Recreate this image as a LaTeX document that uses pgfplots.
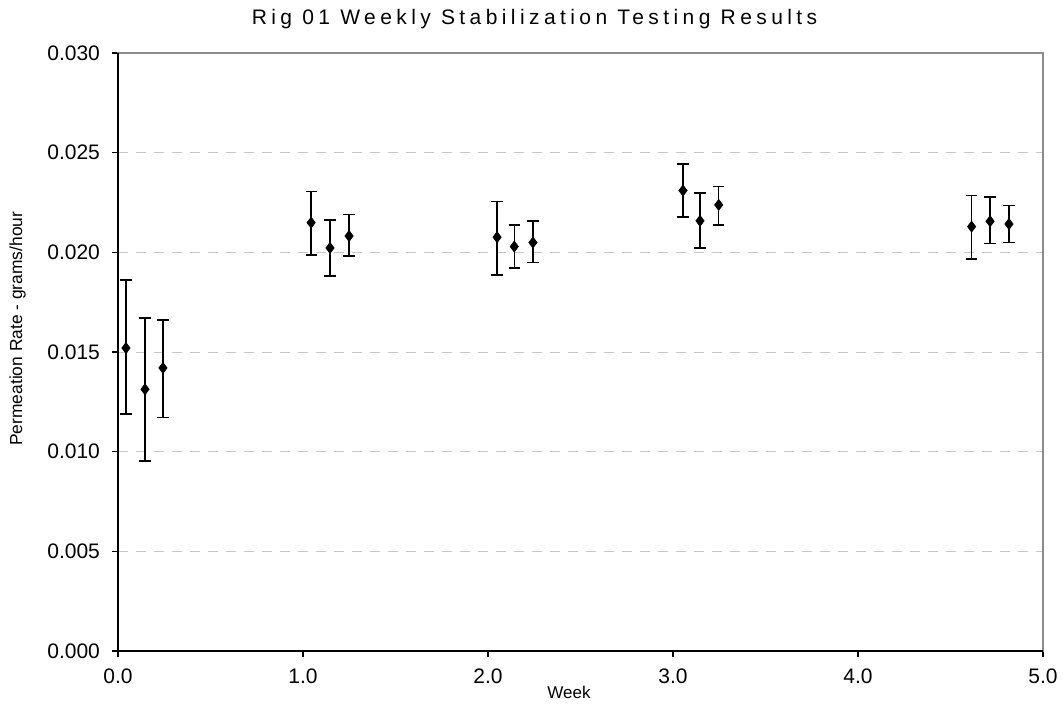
\documentclass[border=0pt]{standalone}
\usepackage{pgfplots}
\pgfplotsset{compat=1.18}
\usepackage{pgfplotstable}
\usepackage{fontspec}
\setmainfont{Liberation Sans}
\newfontfamily\titlefont[LetterSpace=21]{Liberation Sans}
\pgfplotstableread{
x      y       top     bot
0.043  0.01520 0.01860 0.01188
0.146  0.01313 0.01670 0.00953
0.243  0.01420 0.01660 0.01172
1.044  0.02149 0.02305 0.01987
1.146  0.02022 0.02163 0.01882
1.249  0.02082 0.02189 0.01982
2.049  0.02076 0.02256 0.01887
2.142  0.02029 0.02136 0.01922
2.243  0.02049 0.02156 0.01948
3.054  0.02310 0.02444 0.02178
3.146  0.02158 0.02297 0.02022
3.247  0.02238 0.02330 0.02136
4.614  0.02129 0.02285 0.01967
4.714  0.02156 0.02277 0.02044
4.816  0.02142 0.02236 0.02049
}\datatable
\pgfplotstablecreatecol[expr={\thisrow{top}-\thisrow{y}}]{ep}{\datatable}
\pgfplotstablecreatecol[expr={\thisrow{y}-\thisrow{bot}}]{em}{\datatable}
\begin{document}
\begin{tikzpicture}
\useasboundingbox (-59pt,-28pt) rectangle (472.5pt,325.5pt);
\begin{axis}[
  scale only axis,
  width=462.5pt, height=299pt,
  xmin=0, xmax=5, ymin=0, ymax=0.030,
  xtick={0,1,2,3,4,5},
  ytick={0,0.005,0.010,0.015,0.020,0.025,0.030},
  xticklabel style={/pgf/number format/fixed, /pgf/number format/fixed zerofill, /pgf/number format/precision=1, /pgf/number format/assume math mode=true, yshift=-2.5pt},
  yticklabel style={/pgf/number format/fixed, /pgf/number format/fixed zerofill, /pgf/number format/precision=3, /pgf/number format/assume math mode=true, xshift=-2.5pt},
  scaled y ticks=false,
  tick label style={font=\fontsize{10.5}{12}\selectfont},
  tick align=outside,
  tick pos=left,
  major tick length=3pt,
  tick style={black, line width=0.6pt},
  axis line style={black!45, line width=0.8pt},
  ymajorgrids,
  major grid style={black!22, dash pattern=on 5pt off 4pt, line width=0.5pt},
  xlabel={Week},
  xlabel style={at={(axis description cs:0.4876,-0.070)}, anchor=center, font=\fontsize{8.5}{10}\selectfont},
  ylabel={Permeation Rate - grams/hour},
  ylabel style={at={(axis description cs:-0.1086,0.539)}, anchor=center, font=\fontsize{8.7}{10}\selectfont},
  clip=false,
]
\draw[black, line width=0.8pt] (rel axis cs:0,1) -- (rel axis cs:0,0) -- (rel axis cs:1,0);
\addplot[only marks, black, mark=diamond*, mark size=2.7pt,
  error bars/.cd, y dir=both, y explicit,
  error bar style={black, line width=0.75pt},
  error mark options={rotate=90, mark size=2.8pt, line width=0.75pt, black}]
  table[x=x, y=y, y error plus=ep, y error minus=em]{\datatable};
\node[font=\titlefont\fontsize{10.5}{12}\selectfont] at (rel axis cs:0.5,1) [yshift=17pt, xshift=-23pt] {Rig 01 Weekly Stabilization Testing Results};
\end{axis}
\end{tikzpicture}
\end{document}
